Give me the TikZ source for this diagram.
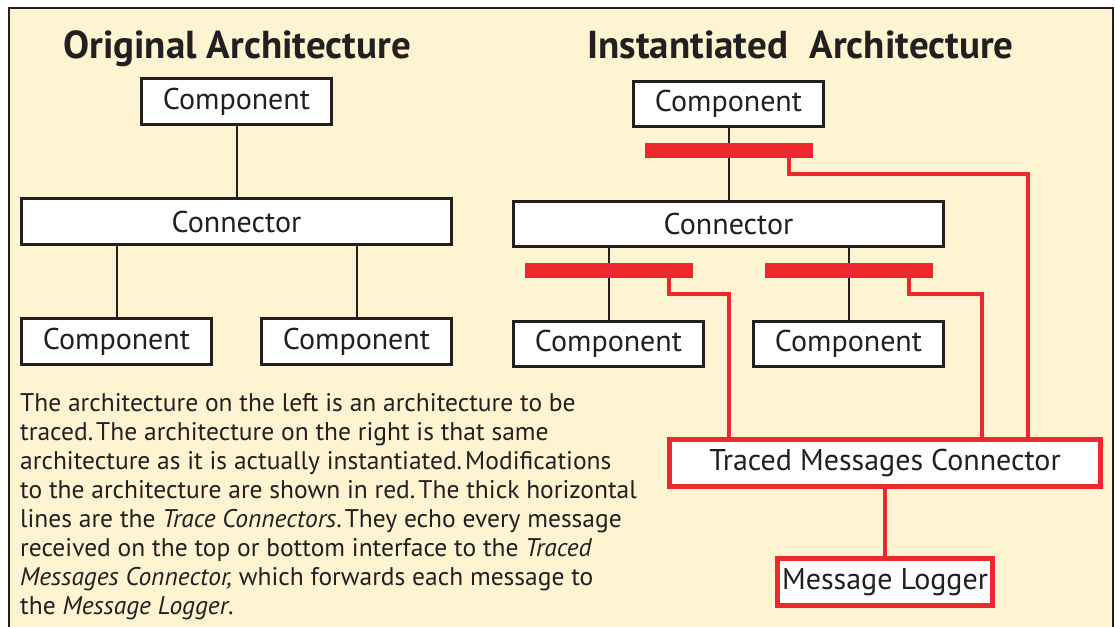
\documentclass[tikz,border=0pt]{standalone}
\usepackage{fontspec}
\setmainfont{PT Sans}
\usetikzlibrary{calc}
\definecolor{cream}{HTML}{FFF4D2}
\definecolor{tred}{HTML}{ED292E}
\definecolor{ink}{HTML}{231F20}
\newcommand{\sentgap}{\hspace{0.12em}}
\begin{document}
\begin{tikzpicture}[x=1pt,y=-1pt,
  box/.style={draw=ink, line width=2.6pt, fill=white, minimum height=45.5pt,
    inner sep=0pt, text=ink, font=\fontsize{30}{34}\selectfont},
  comp/.style={box, minimum width=190pt},
  conn/.style={box, minimum width=430pt},
  redbox/.style={draw=tred, line width=5pt, fill=white, minimum height=47pt,
    inner sep=0pt, text=ink, font=\fontsize{30}{34}\selectfont},
  wire/.style={draw=ink, line width=2pt},
  redwire/.style={draw=tred, line width=4.5pt},
  tracebar/.style={fill=tred, minimum width=168pt, minimum height=15pt, inner sep=0pt},
  title/.style={anchor=base, text=ink, font=\bfseries\fontsize{39}{42}\selectfont}]
  % canvas and frame
  \useasboundingbox (0,0) rectangle (1115,626);
  \fill[white] (0,0) rectangle (1115,626);
  \filldraw[fill=cream, draw=ink, line width=2pt] (9,8) rectangle (1113,660);

  % titles
  \node[title] (tleft) at (237,59) {Original Architecture};
  \node[title] (tright) at (800.5,59) {Instantiated\hspace{0.3em} Architecture};

  % original architecture
  \node[comp] (ocomp) at (236.5,101.5) {Component};
  \node[conn] (oconn) at (236.5,221.5) {Connector};
  \node[comp] (ocl) at (116.5,341.5) {Component};
  \node[comp] (ocr) at (356.5,341.5) {Component};
  \draw[wire] (ocomp) -- (oconn);
  \draw[wire] (ocl.north) -- (ocl.north |- oconn.south);
  \draw[wire] (ocr.north) -- (ocr.north |- oconn.south);

  % instantiated architecture
  \node[comp] (icomp) at (728.5,104) {Component};
  \node[conn] (iconn) at (728.5,224) {Connector};
  \node[comp] (icl) at (608.5,344) {Component};
  \node[comp] (icr) at (848.5,344) {Component};
  \draw[wire] (icomp) -- (iconn);
  \draw[wire] (icl.north) -- (icl.north |- iconn.south);
  \draw[wire] (icr.north) -- (icr.north |- iconn.south);

  % trace connectors
  \node[tracebar] (tbtop) at (729,150.5) {};
  \node[tracebar] (tbleft) at (609,270.5) {};
  \node[tracebar] (tbright) at (849,270.5) {};

  % traced messages connector and logger
  \node[redbox, minimum width=431pt] (tmc) at (885,463) {Traced Messages Connector};
  \node[redbox, minimum width=215pt] (logger) at (885,582) {Message Logger};

  \draw[redwire] ([xshift=-24pt]tbtop.south east) -- ++(0,16) -| ([xshift=143pt]tmc.north);
  \draw[redwire] ([xshift=-24pt]tbleft.south east) -- ++(0,16) -| ([xshift=-156pt]tmc.north);
  \draw[redwire] ([xshift=-24pt]tbright.south east) -- ++(0,16) -| ([xshift=97pt]tmc.north);
  \draw[redwire] (tmc) -- (logger);

  % explanation
  \node[anchor=north west, align=left, inner sep=0pt, text=ink,
        font=\fontsize{25.5}{29}\selectfont] (desc) at (20,393)
  {The architecture on the left is an architecture to be\\
   traced.\sentgap The architecture on the right is that same\\
   architecture as it is actually instantiated.\sentgap Modifications\\
   to the architecture are shown in red.\sentgap The thick horizontal\\
   lines are the \textit{Trace Connectors}.\sentgap They echo every message\\
   received on the top or bottom interface to the \textit{Traced}\\
   \textit{Messages Connector,} which forwards each message to\\
   the \textit{Message Logger}.};
\end{tikzpicture}
\end{document}
